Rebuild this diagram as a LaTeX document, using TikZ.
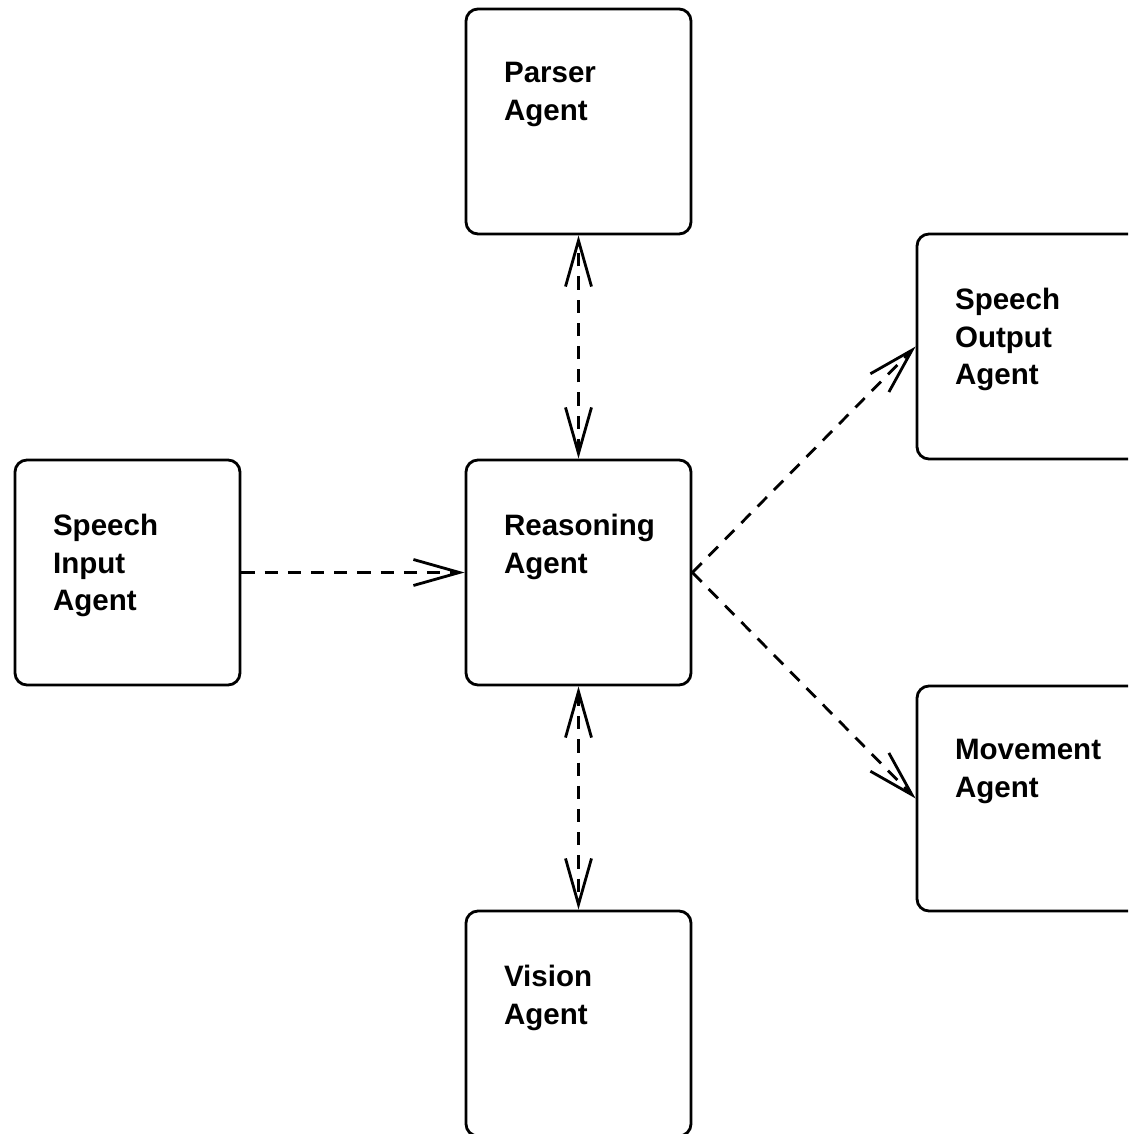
\documentclass[tikz,border=0pt]{standalone}
\usepackage{fontspec}
\setmainfont{Liberation Sans}
\usetikzlibrary{positioning, arrows.meta}

\begin{document}
\begin{tikzpicture}[
    node distance=5.58cm,
    agent/.style={rectangle, draw=black, line width=2pt, minimum width=5.625cm, minimum height=5.625cm, rounded corners=0.3cm, fill=white},
    agenttext/.style={anchor=north west, inner sep=0pt, align=left, font=\bfseries\fontsize{21}{27}\selectfont, xshift=0.98cm, yshift=-1.37cm},
    barb/.tip={Straight Barb[length=1.15cm, width=0.65cm, line width=2pt]},
    link/.style={line width=2pt, dash pattern=on 0.33cm off 0.25cm},
    oneway/.style={link, -barb},
    twoway/.style={link, barb-barb}
]
\path[use as bounding box] (-14.4625,-14.0375) rectangle (13.7375,14.3125);
\clip (-14.4625,-14.0375) rectangle (13.7375,14.3125);
\node[agent, label={[agenttext]north west:Reasoning\\Agent}] (reasoning) at (0,0) {};
\node[agent, label={[agenttext]north west:Parser\\Agent}, above=of reasoning] (parser) {};
\node[agent, label={[agenttext]north west:Vision\\Agent}, below=of reasoning] (vision) {};
\node[agent, label={[agenttext]north west:Speech\\Input\\Agent}, left=of reasoning] (speechin) {};
\node[agent, label={[agenttext]north west:Speech\\Output\\Agent}, right=of reasoning, yshift=5.65cm] (speechout) {};
\node[agent, label={[agenttext]north west:Movement\\Agent}, right=of reasoning, yshift=-5.65cm] (movement) {};
\draw[twoway] (reasoning.north) -- (parser.south);
\draw[twoway] (reasoning.south) -- (vision.north);
\draw[oneway] (speechin.east) -- (reasoning.west);
\draw[oneway] (reasoning.east) -- (speechout.west);
\draw[oneway] (reasoning.east) -- (movement.west);
\end{tikzpicture}
\end{document}
